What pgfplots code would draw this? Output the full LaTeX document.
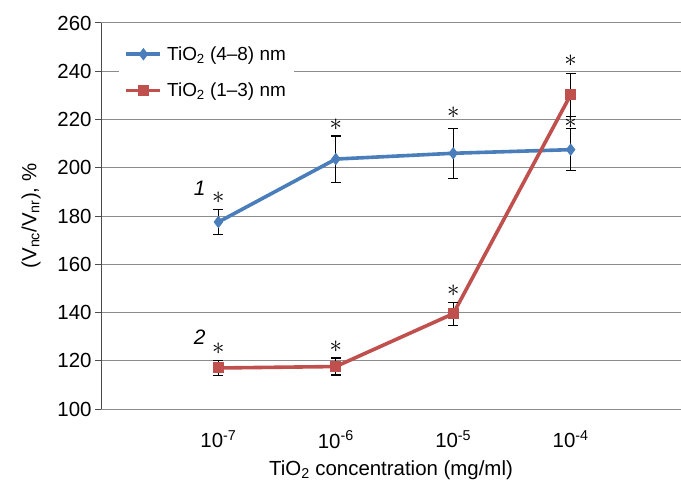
\documentclass[border=0pt]{standalone}
\usepackage{pgfplots}
\pgfplotsset{compat=1.18}
\usepackage{fontspec}
\setmainfont{Liberation Sans}
\definecolor{lineblue}{HTML}{4A7EBB}
\definecolor{linered}{HTML}{C0504D}
\definecolor{gridgray}{HTML}{8C8C8C}
\begin{document}
\begin{tikzpicture}
\begin{axis}[
  scale only axis,
  width=580bp, height=386bp,
  xmin=0, xmax=4.94,
  ymin=100, ymax=260,
  ytick={100,120,...,260},
  xtick={1,2,3,4},
  xticklabels={10\textsuperscript{-7},10\textsuperscript{-6},10\textsuperscript{-5},10\textsuperscript{-4}},
  axis x line*=bottom, axis y line*=left,
  axis line style={gridgray, line width=1pt},
  y axis line style={black!70},
  ymajorgrids, grid style={gridgray, line width=1pt},
  xtick style={draw=none},
  ytick style={black!70, line width=1pt},
  tick align=outside, major tick length=6bp,
  /pgf/number format/assume math mode=true,
  tick label style={font=\fontsize{20.5}{24}\selectfont},
  xticklabel style={yshift=-12bp},
  label style={font=\fontsize{20.5}{24}\selectfont},
  xlabel={TiO\textsubscript{2} concentration (mg/ml)},
  xlabel style={yshift=-6bp},
  ylabel={(V\textsubscript{nc}/V\textsubscript{nr}), \%},
  ylabel style={yshift=10bp},
  legend style={at={(0.03,0.96)}, anchor=north west, draw=none, fill=white,
    font=\fontsize{19}{23}\selectfont, row sep=17bp, inner xsep=6bp, inner ysep=6bp},
  legend cell align=left,
  legend image code/.code={\draw[#1, mark repeat=2, mark phase=2] plot coordinates {(0bp,0bp) (17bp,0bp) (34bp,0bp)};},
  clip=false,
]
\addplot[lineblue, line width=3.6bp, mark=diamond*, mark size=5.5bp,
  mark options={line width=1pt},
  error bars/.cd, y dir=both, y explicit,
  error bar style={black, line width=1.2pt},
  error mark options={black, rotate=90, mark size=5bp, line width=1.2pt}]
  coordinates {
  (1,177.5) +- (0,5.2)
  (2,203.6) +- (0,9.6)
  (3,206.0) +- (0,10.4)
  (4,207.5) +- (0,8.8)
  };
\addlegendentry{\hspace{3bp}TiO\textsubscript{2} (4–8) nm}
\addplot[linered, line width=3.6bp, mark=square*, mark size=5bp,
  mark options={line width=1pt},
  error bars/.cd, y dir=both, y explicit,
  error bar style={black, line width=1.2pt},
  error mark options={black, rotate=90, mark size=5bp, line width=1.2pt}]
  coordinates {
  (1,117.0) +- (0,3.0)
  (2,117.6) +- (0,3.5)
  (3,139.5) +- (0,4.8)
  (4,230.2) +- (0,8.8)
  };
\addlegendentry{\hspace{3bp}TiO\textsubscript{2} (1–3) nm}
\begin{scope}[every node/.style={font=\fontsize{26}{30}\selectfont, inner sep=0pt}]
\node at (axis cs:1,187.5) {$\ast$};
\node at (axis cs:2,218.0) {$\ast$};
\node at (axis cs:3,223.0) {$\ast$};
\node at (axis cs:4,218.5) {$\ast$};
\node at (axis cs:1,125.0) {$\ast$};
\node at (axis cs:2,126.0) {$\ast$};
\node at (axis cs:3,149.0) {$\ast$};
\node at (axis cs:4,244.3) {$\ast$};
\end{scope}
\begin{scope}[every node/.style={font=\fontsize{21}{25}\selectfont, inner sep=0pt}]
\node at (axis cs:0.84,191.6) {\itshape 1};
\node at (axis cs:0.84,129.8) {\itshape 2};
\end{scope}
\end{axis}
\pgfresetboundingbox
\path[use as bounding box] ([xshift=-101bp,yshift=-77bp]current axis.south west) rectangle ([yshift=23bp]current axis.north east);
\end{tikzpicture}
\end{document}
